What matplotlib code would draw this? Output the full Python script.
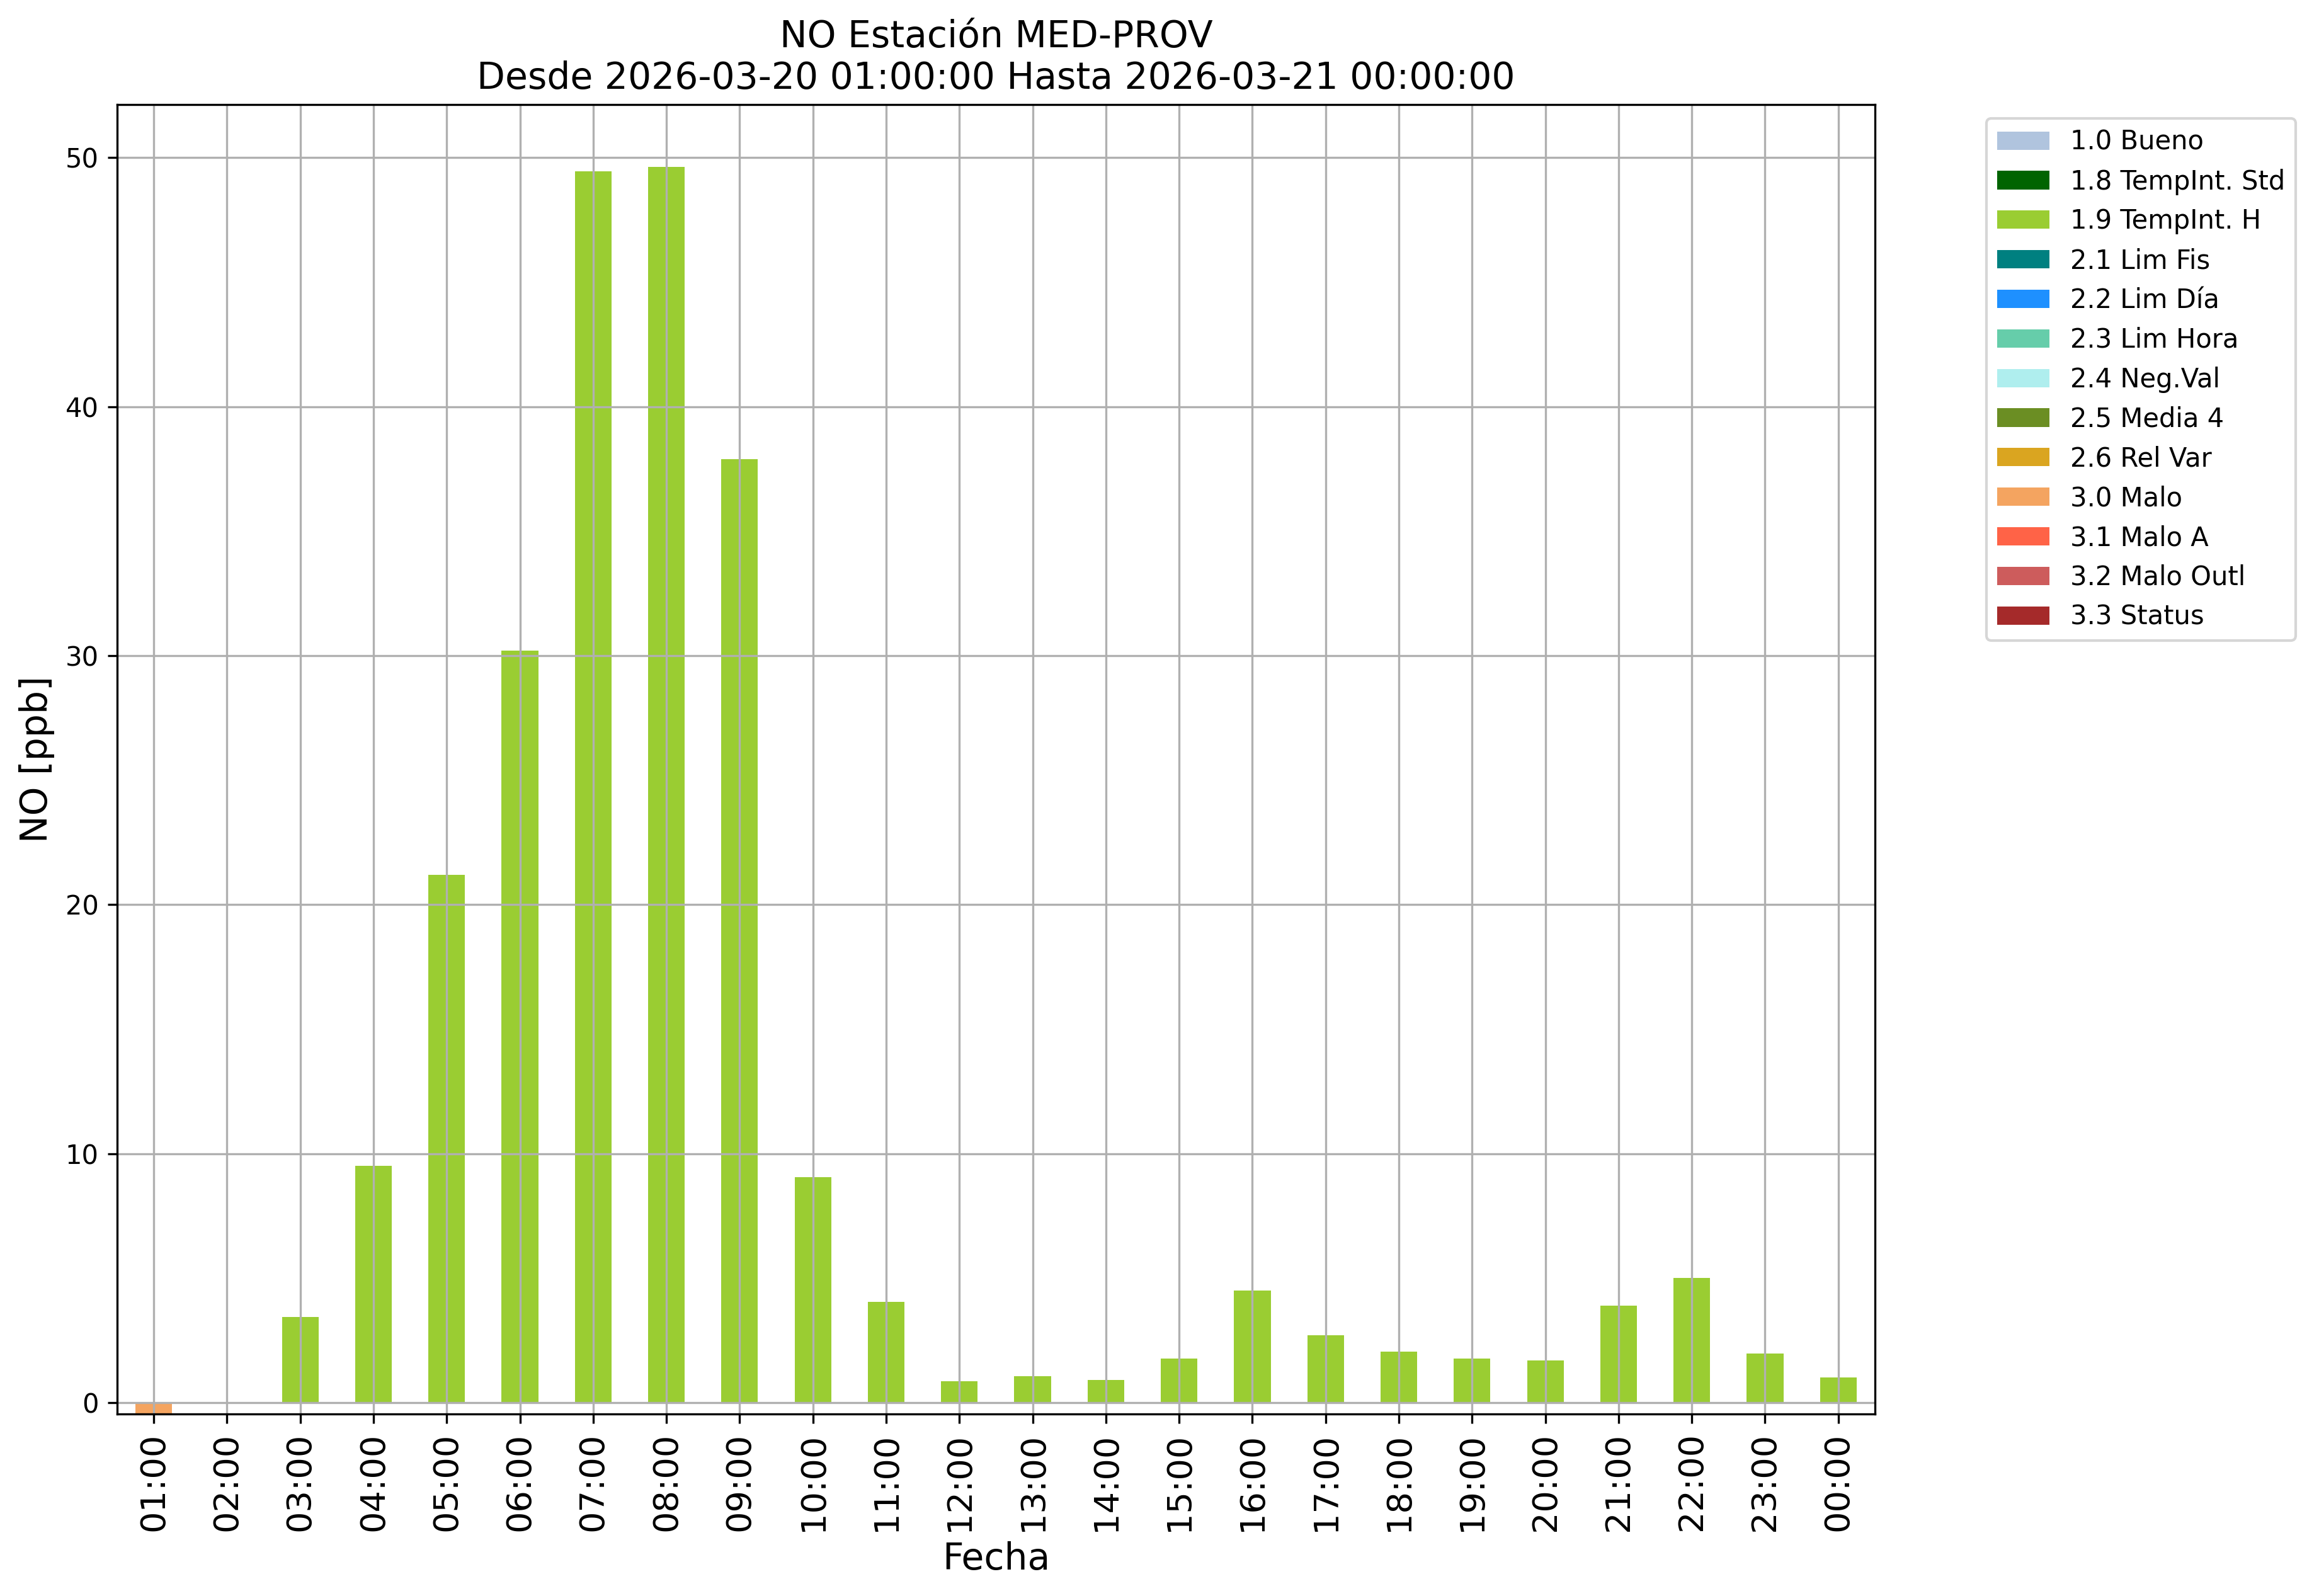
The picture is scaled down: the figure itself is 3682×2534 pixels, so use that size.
import matplotlib
matplotlib.use("Agg")
import matplotlib.pyplot as plt
import numpy as np
import pandas as pd

# horas del periodo
horas = ["01:00", "02:00", "03:00", "04:00", "05:00", "06:00", "07:00", "08:00",
         "09:00", "10:00", "11:00", "12:00", "13:00", "14:00", "15:00", "16:00",
         "17:00", "18:00", "19:00", "20:00", "21:00", "22:00", "23:00", "00:00"]

# valores por flag (NaN = sin dato en esa categoria)
templnt_h = [np.nan, np.nan, 3.45, 9.5, 21.2, 30.2, 49.45, 49.63,
             37.9, 9.05, 4.04, 0.85, 1.05, 0.9, 1.78, 4.5,
             2.7, 2.06, 1.76, 1.69, 3.89, 5.0, 1.96, 1.0]
malo = [-0.45] + [np.nan] * 23

flags = ["1.0 Bueno", "1.8 TempInt. Std", "1.9 TempInt. H", "2.1 Lim Fis",
         "2.2 Lim Día", "2.3 Lim Hora", "2.4 Neg.Val", "2.5 Media 4",
         "2.6 Rel Var", "3.0 Malo", "3.1 Malo A", "3.2 Malo Outl", "3.3 Status"]
colores = ["lightsteelblue", "darkgreen", "yellowgreen", "teal", "dodgerblue",
           "mediumaquamarine", "paleturquoise", "olivedrab", "goldenrod",
           "sandybrown", "tomato", "indianred", "brown"]

df = pd.DataFrame({f: [np.nan] * len(horas) for f in flags}, index=horas)
df["1.9 TempInt. H"] = templnt_h
df["3.0 Malo"] = malo

fig = plt.figure(figsize=(3682 / 300, 2534 / 300), dpi=300)
ax = fig.add_axes([0.0505, 0.1140, 0.758, 0.8206])

df.plot(kind="bar", stacked=True, color=colores, ax=ax, legend=False, rot=90)

ax.set_ylim(-0.46, 52.14)
ax.grid(True)
ax.set_title("NO Estación MED-PROV\nDesde 2026-03-20 01:00:00 Hasta 2026-03-21 00:00:00",
             fontsize=14)
ax.set_ylabel("NO [ppb]", fontsize=14)
ax.set_xlabel("Fecha", fontsize=14)
ax.tick_params(axis="x", labelsize=13)
ax.tick_params(axis="y", labelsize=10)

ax.legend(loc="upper left", bbox_to_anchor=(0.8566, 0.9258),
          bbox_transform=fig.transFigure, borderaxespad=0, fontsize=10)

fig.savefig("out.png", dpi=300)
